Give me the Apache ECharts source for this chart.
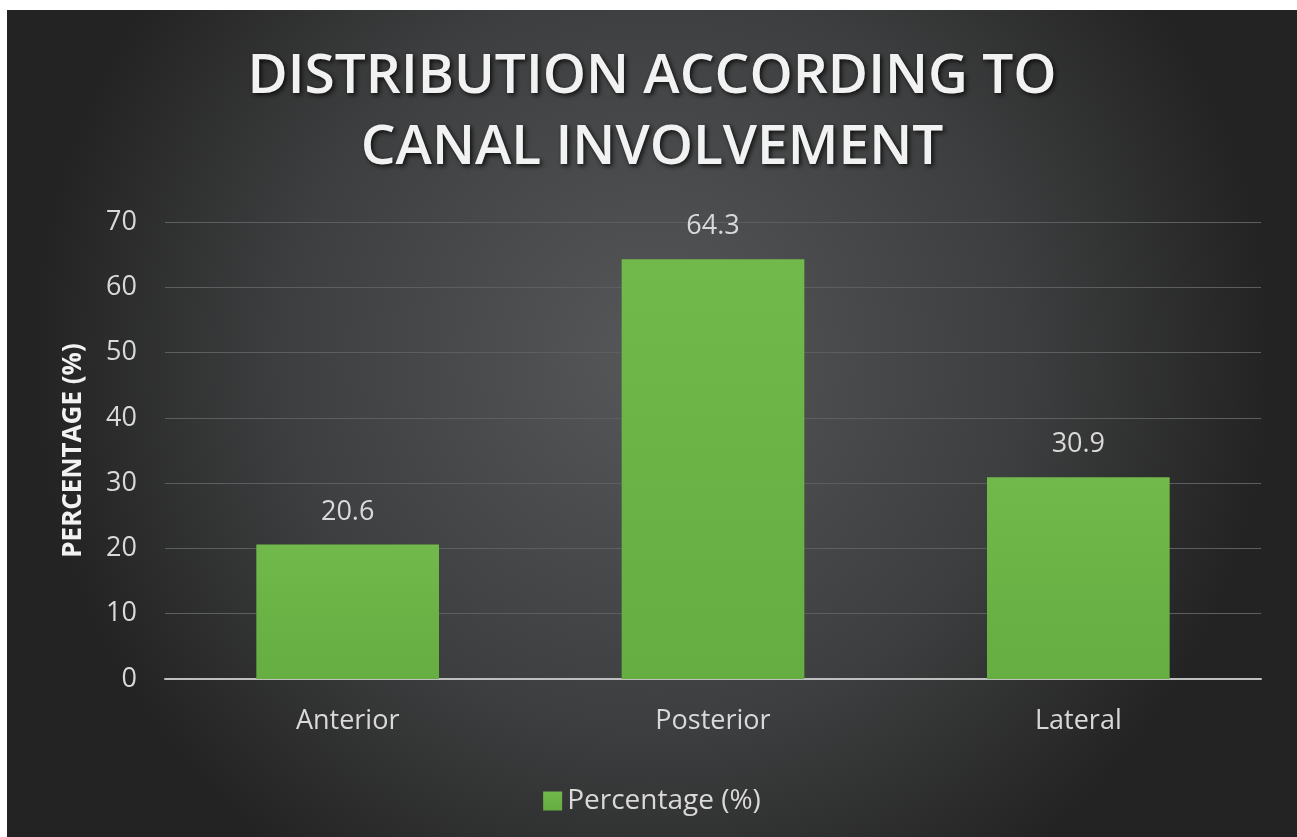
<!DOCTYPE html>
<html>
<head>
<meta charset="utf-8">
<script src="https://cdn.jsdelivr.net/npm/echarts@6/dist/echarts.min.js"></script>
<style>
html,body{margin:0;padding:0;background:#ffffff;}
#chart{position:absolute;left:7px;top:10px;width:1290px;height:827px;}
</style>
</head>
<body>
<div id="chart"></div>
<script>
var categories = ['Anterior', 'Posterior', 'Lateral'];
var values = [20.6, 64.3, 30.9];
var seriesName = 'Percentage (%)';
var titleText = 'DISTRIBUTION ACCORDING TO\nCANAL INVOLVEMENT';
var yAxisName = 'PERCENTAGE (%)';

var chart = echarts.init(document.getElementById('chart'));
var font = '"Open Sans", "Noto Sans", sans-serif';
chart.setOption({
  backgroundColor: {
    type: 'radial', x: 0.5, y: 0.42, r: 0.75,
    colorStops: [
      {offset: 0, color: '#555759'},
      {offset: 0.6, color: '#3d3e3f'},
      {offset: 1, color: '#232323'}
    ]
  },
  textStyle: {fontFamily: font},
  title: {
    text: titleText,
    left: 'center',
    top: 27,
    textStyle: {
      fontFamily: font,
      fontSize: 55,
      fontWeight: 600,
      color: '#f2f2f2',
      lineHeight: 71,
      textShadowColor: 'rgba(0,0,0,0.8)',
      textShadowBlur: 5,
      textShadowOffsetX: 2,
      textShadowOffsetY: 2
    }
  },
  legend: {
    data: [seriesName],
    top: 772,
    left: 'center',
    itemWidth: 19,
    itemHeight: 19,
    itemGap: 8,
    icon: 'rect',
    textStyle: {color: '#d9d9d9', fontSize: 28, fontFamily: font}
  },
  grid: {left: 158, right: 36, top: 212, bottom: 158},
  xAxis: {
    type: 'category',
    data: categories,
    axisLine: {lineStyle: {color: '#bfbfbf', width: 2}},
    axisTick: {show: false},
    axisLabel: {color: '#d9d9d9', fontSize: 27, margin: 29, fontFamily: font}
  },
  yAxis: {
    type: 'value',
    min: 0, max: 70, interval: 10,
    name: yAxisName,
    nameLocation: 'middle',
    nameGap: 78,
    nameTextStyle: {color: '#f2f2f2', fontSize: 26, fontWeight: 'bold', fontFamily: font},
    axisLine: {show: false},
    axisTick: {show: false},
    axisLabel: {color: '#d9d9d9', fontSize: 27, margin: 28, fontFamily: font},
    splitLine: {lineStyle: {color: '#5c5e60', width: 1}}
  },
  series: [{
    name: seriesName,
    type: 'bar',
    data: values,
    barWidth: '50%',
    itemStyle: {
      color: {
        type: 'linear', x: 0, y: 0, x2: 0, y2: 1,
        colorStops: [{offset: 0, color: '#72b94b'}, {offset: 1, color: '#66ad42'}]
      }
    },
    label: {
      show: true, position: 'top', distance: 19,
      color: '#d9d9d9', fontSize: 27, fontFamily: font
    }
  }]
});
</script>
</body>
</html>
